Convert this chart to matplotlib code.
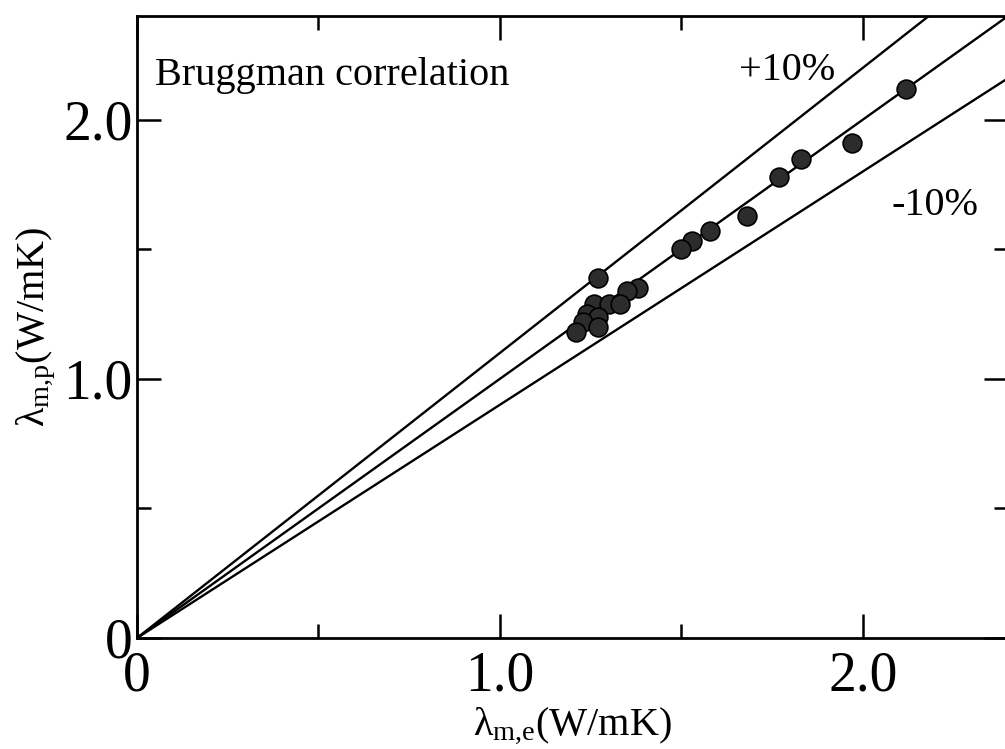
import numpy as np
import matplotlib
matplotlib.use("Agg")
import matplotlib.pyplot as plt
from matplotlib.ticker import MultipleLocator, FixedLocator, FixedFormatter

plt.rcParams["font.family"] = ["Liberation Serif", "DejaVu Serif"]
plt.rcParams["mathtext.fontset"] = "custom"
plt.rcParams["mathtext.rm"] = "Liberation Serif"
plt.rcParams["mathtext.it"] = "Liberation Serif:italic"

# measured vs. predicted thermal conductivity (W/mK)
lam_exp = [2.12, 1.97, 1.83, 1.77, 1.68, 1.58, 1.53, 1.50, 1.38, 1.35,
           1.27, 1.26, 1.30, 1.33, 1.24, 1.27, 1.23, 1.27, 1.21]
lam_pred = [2.12, 1.91, 1.85, 1.78, 1.63, 1.57, 1.53, 1.50, 1.35, 1.34,
            1.39, 1.29, 1.29, 1.29, 1.25, 1.24, 1.22, 1.20, 1.18]

ref_x = [0.0, 3.0]
deviation = [1.1, 1.0, 0.9]

tick_vals = [0.0, 1.0, 2.0]
tick_text = ["0", "1.0", "2.0"]

fig = plt.figure(figsize=(10.05, 7.49), dpi=100)
ax = fig.add_axes([137 / 1005, 111 / 749, 871 / 1005, 622 / 749])

for k in deviation:
    ax.plot(ref_x, [k * v for v in ref_x], color="black", lw=1.7)

ax.plot(lam_exp, lam_pred, "o", ms=13.5, mfc="#2c2c2c", mec="black", mew=1.2)

ax.set_xlim(0, 2.4)
ax.set_ylim(0, 2.4)

for axis in (ax.xaxis, ax.yaxis):
    axis.set_major_locator(FixedLocator(tick_vals))
    axis.set_major_formatter(FixedFormatter(tick_text))
    axis.set_minor_locator(MultipleLocator(0.5))

ax.tick_params(which="both", direction="in", top=True, right=True, width=1.8)
ax.tick_params(which="major", length=17, labelsize=40, pad=3)
ax.tick_params(axis="x", which="major", pad=9)
ax.tick_params(which="minor", length=10)
for s in ax.spines.values():
    s.set_linewidth(2)

ax.set_xlabel(r"λ$_{\mathrm{m{,}e}}$(W/mK)", fontsize=29, labelpad=2)
ax.set_ylabel(r"λ$_{\mathrm{m{,}p}}$(W/mK)", fontsize=29, labelpad=4)

ax.text(0.05, 2.17, "Bruggman correlation", fontsize=29, va="center")
ax.text(1.66, 2.19, "+10%", fontsize=29, va="center")
ax.text(2.08, 1.67, "-10%", fontsize=29, va="center")

fig.savefig("out.png", dpi=100)
